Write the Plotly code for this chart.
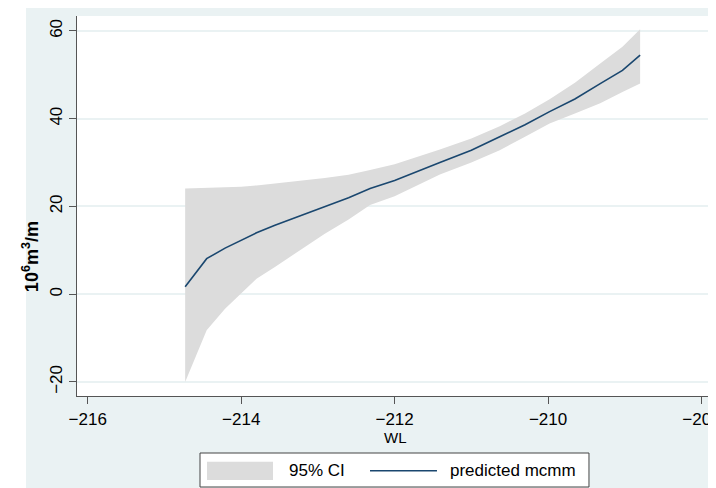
import plotly.graph_objects as go

# ---- data ----
wl = [-214.73, -214.45, -214.21, -214.0, -213.8, -213.56, -212.91, -212.6, -212.32,
      -212.0, -211.41, -211.0, -210.63, -210.3, -209.98, -209.65, -209.32, -209.03, -208.80]
pred = [1.7, 8.1, 10.5, 12.3, 14.0, 15.7, 19.9, 22.0, 24.1,
        25.9, 30.0, 32.8, 35.9, 38.6, 41.6, 44.5, 48.0, 51.0, 54.5]
upper = [24.1, 24.2, 24.3, 24.5, 24.8, 25.2, 26.5, 27.2, 28.3,
         29.6, 33.0, 35.5, 38.3, 41.2, 44.4, 48.2, 52.6, 56.4, 60.4]
lower = [-20.0, -8.2, -3.3, 0.2, 3.5, 6.2, 13.8, 17.0, 20.3,
         22.3, 27.3, 30.0, 32.8, 35.9, 38.9, 41.2, 43.5, 46.1, 48.0]

x_ticks = [-216, -214, -212, -210, -208]
y_ticks = [-20, 0, 20, 40, 60]
legend_labels = ["95% CI", "predicted mcmm"]

BG = "#eaf2f3"
CI = "#dcdcdc"
LINE = "#1a476f"
AX = "#555555"
FONT = "Liberation Sans, Arial, sans-serif"

fig = go.Figure()
fig.add_trace(go.Scatter(x=wl, y=upper, mode="lines", line=dict(width=0, color=CI),
                         showlegend=False, hoverinfo="skip"))
fig.add_trace(go.Scatter(x=wl, y=lower, mode="lines", line=dict(width=0, color=CI),
                         fill="tonexty", fillcolor=CI, showlegend=False, hoverinfo="skip"))
fig.add_trace(go.Scatter(x=wl, y=pred, mode="lines", line=dict(width=1.6, color=LINE),
                         showlegend=False))

shapes = [
    # outer graph region background
    dict(type="rect", xref="paper", yref="paper", x0=-0.0802, x1=1.2, y0=-0.6, y1=1.0237,
         fillcolor=BG, line=dict(width=0), layer="below"),
    # plot region
    dict(type="rect", xref="paper", yref="paper", x0=0, x1=1, y0=0, y1=1,
         fillcolor="white", line=dict(width=0), layer="below"),
    # legend box
    dict(type="rect", xref="paper", yref="paper", x0=0.1934, x1=0.805, y0=-0.2395, y1=-0.15,
         fillcolor="white", line=dict(width=1, color="#444444"), layer="above"),
    # CI swatch
    dict(type="rect", xref="paper", yref="paper", x0=0.2044, x1=0.3082, y0=-0.221, y1=-0.1729,
         fillcolor=CI, line=dict(width=0), layer="above"),
    # line swatch
    dict(type="line", xref="paper", yref="paper", x0=0.4607, x1=0.566, y0=-0.197, y1=-0.197,
         line=dict(width=1.5, color=LINE), layer="above"),
]

annotations = [
    dict(text="<b>10<sup>6</sup>m<sup>3</sup>/m</b>", xref="paper", yref="paper", x=-0.072, y=0.366,
         textangle=-90, showarrow=False, font=dict(size=18, color="black", family=FONT),
         xanchor="center", yanchor="middle"),
    dict(text="WL", xref="paper", yref="paper", x=0.5, y=-0.109, showarrow=False,
         font=dict(size=15, color="black", family=FONT), xanchor="center", yanchor="middle"),
    dict(text=legend_labels[0], xref="paper", yref="paper", x=0.3302, y=-0.197, showarrow=False,
         font=dict(size=17, color="black", family=FONT), xanchor="left", yanchor="middle"),
    dict(text=legend_labels[1], xref="paper", yref="paper", x=0.5833, y=-0.197, showarrow=False,
         font=dict(size=17, color="black", family=FONT), xanchor="left", yanchor="middle"),
]

fig.update_layout(
    width=708, height=480,
    margin=dict(l=69, r=3, t=8, b=92, autoexpand=False),
    paper_bgcolor="white", plot_bgcolor="white",
    font=dict(family=FONT, size=17, color="black"),
    shapes=shapes, annotations=annotations,
    showlegend=False,
    xaxis=dict(range=[-216.14, -207.85], tickvals=x_ticks, ticks="outside", ticklen=7,
               tickwidth=1.3, tickcolor=AX, showline=True, linecolor=AX, linewidth=1.3,
               showgrid=False, zeroline=False, tickfont=dict(size=17),
               automargin=False, ticklabeloverflow="allow"),
    yaxis=dict(range=[-23.2, 63.4], tickvals=y_ticks, ticks="outside", ticklen=7,
               tickwidth=1.3, tickcolor=AX, showline=True, linecolor=AX, linewidth=1.3,
               showgrid=True, gridcolor=BG, gridwidth=1.5, zeroline=False,
               tickangle=-90, tickfont=dict(size=17), automargin=False,
               ticklabeloverflow="allow"),
)

fig.write_html("out.html")
